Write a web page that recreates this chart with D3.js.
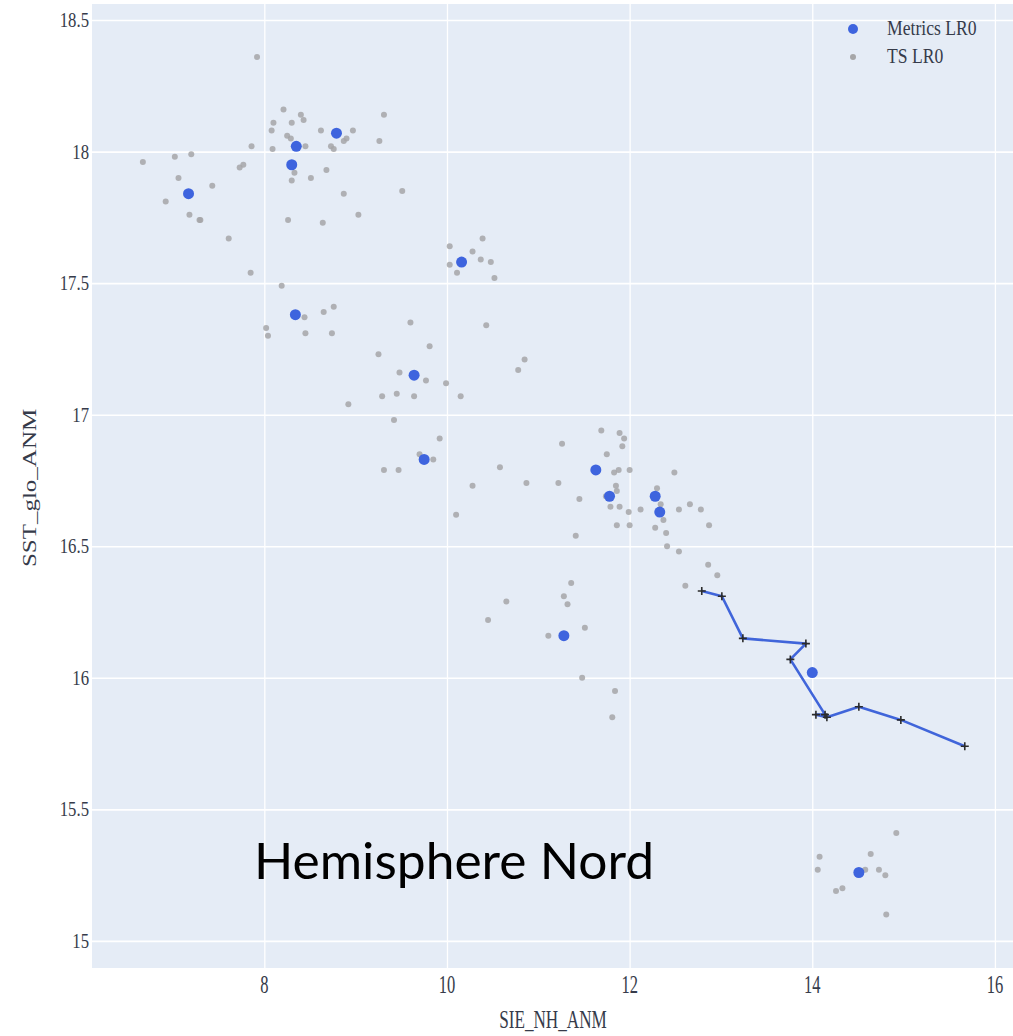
<!DOCTYPE html>
<html>
<head>
<meta charset="utf-8">
<script src="https://cdn.jsdelivr.net/npm/d3@7"></script>
<style>
  html, body { margin: 0; padding: 0; background: #ffffff; }
  svg { display: block; }
</style>
</head>
<body>
<div id="chart"></div>
<script>
// ---- data ----
const xTicks = [8, 10, 12, 14, 16];
const yTicks = [15, 15.5, 16, 16.5, 17, 17.5, 18, 18.5];
const xTitle = "SIE_NH_ANM";
const yTitle = "SST_glo_ANM";
const legendLabels = ["Metrics LR0", "TS LR0"];
const annotation = "Hemisphere Nord";

const tsX = [7.92,8.21,8.40,8.43,8.10,8.30,8.08,8.62,8.97,9.31,8.25,8.29,8.90,8.87,9.26,8.45,8.73,8.76,7.86,8.09,
  6.67,7.02,7.20,7.73,7.77,8.33,8.68,8.51,8.30,7.06,7.43,6.92,8.87,9.51,7.18,7.29,7.30,8.26,8.64,9.03,
  7.61,7.85,8.19,10.03,10.39,10.28,10.37,10.48,10.03,10.11,10.52,8.44,8.65,8.76,8.02,8.04,8.45,8.74,9.60,10.43,
  9.81,9.25,9.48,9.77,9.99,10.78,10.85,9.29,9.45,9.64,10.15,8.92,9.42,9.92,9.70,9.85,9.31,9.47,10.58,10.28,
  10.10,11.26,11.69,11.89,11.94,11.92,11.75,11.83,11.88,12.00,12.49,10.87,11.22,11.85,11.74,11.86,12.30,12.34,12.66,12.54,
  12.78,12.12,11.99,11.79,11.89,11.45,11.86,12.00,12.37,12.28,12.40,12.87,11.41,12.41,12.54,12.86,12.96,12.61,11.36,11.28,
  11.32,10.65,10.45,11.51,11.11,11.48,11.84,11.81,14.92,14.64,14.08,14.06,14.58,14.73,14.80,14.26,14.33,14.81];
const tsY = [18.36,18.16,18.14,18.12,18.11,18.11,18.08,18.08,18.08,18.14,18.06,18.05,18.05,18.04,18.04,18.02,18.02,18.01,18.02,18.01,
  17.96,17.98,17.99,17.94,17.95,17.92,17.93,17.90,17.89,17.90,17.87,17.81,17.84,17.85,17.76,17.74,17.74,17.74,17.73,17.76,
  17.67,17.54,17.49,17.64,17.67,17.62,17.59,17.58,17.57,17.54,17.52,17.37,17.39,17.41,17.33,17.30,17.31,17.31,17.35,17.34,
  17.26,17.23,17.16,17.13,17.12,17.17,17.21,17.07,17.08,17.07,17.07,17.04,16.98,16.91,16.85,16.83,16.79,16.79,16.80,16.73,
  16.62,16.89,16.94,16.93,16.91,16.88,16.85,16.78,16.79,16.79,16.78,16.74,16.74,16.73,16.69,16.71,16.72,16.66,16.66,16.64,
  16.64,16.64,16.63,16.65,16.65,16.68,16.58,16.58,16.60,16.57,16.55,16.58,16.54,16.50,16.48,16.43,16.39,16.35,16.36,16.31,
  16.28,16.29,16.22,16.19,16.16,16.00,15.95,15.85,15.41,15.33,15.32,15.27,15.27,15.27,15.25,15.19,15.20,15.10];

const metricsX = [8.79,8.35,8.30,7.17,10.16,8.34,9.64,9.75,11.63,11.78,12.28,12.33,11.28,14.00,14.51];
const metricsY = [18.07,18.02,17.95,17.84,17.58,17.38,17.15,16.83,16.79,16.69,16.69,16.63,16.16,16.02,15.26];

const lineX = [12.79,13.01,13.24,13.93,13.76,14.14,14.04,14.16,14.51,14.97,15.67];
const lineY = [16.33,16.31,16.15,16.13,16.07,15.86,15.86,15.85,15.89,15.84,15.74];

// ---- layout ----
const W = 1013, H = 1036;
const plot = { left: 92, right: 1013, top: 4, bottom: 968 };

const svg = d3.select("#chart").append("svg").attr("width", W).attr("height", H);

const x = d3.scaleLinear().domain([6.113, 16.198]).range([plot.left, plot.right]);
const y = d3.scaleLinear().domain([14.897, 18.561]).range([plot.bottom, plot.top]);

svg.append("rect")
  .attr("x", plot.left).attr("y", plot.top)
  .attr("width", plot.right - plot.left).attr("height", plot.bottom - plot.top)
  .attr("fill", "#E5ECF6");

const tickColor = "#363b4a";
const serif = "'Liberation Serif', 'DejaVu Serif', serif";

// grid via axes
const gx = svg.append("g").attr("transform", `translate(0,${plot.bottom})`)
  .call(d3.axisBottom(x).tickValues(xTicks).tickSize(-(plot.bottom - plot.top)).tickFormat(""));
gx.select(".domain").remove();
gx.selectAll("line").attr("stroke", "#ffffff").attr("stroke-width", 1.3);

const gy = svg.append("g").attr("transform", `translate(${plot.left},0)`)
  .call(d3.axisLeft(y).tickValues(yTicks).tickSize(-(plot.right - plot.left)).tickFormat(""));
gy.select(".domain").remove();
gy.selectAll("line").attr("stroke", "#ffffff").attr("stroke-width", 1.6);

// tick labels
svg.append("g").selectAll("text").data(xTicks).join("text")
  .attr("transform", d => `translate(${x(d)},993) scale(0.66,1)`)
  .attr("text-anchor", "middle")
  .attr("font-family", serif).attr("font-size", 25).attr("fill", tickColor)
  .text(d => d3.format("")(d));

svg.append("g").selectAll("text").data(yTicks).join("text")
  .attr("transform", d => `translate(89,${y(d) + 7}) scale(0.76,1)`)
  .attr("text-anchor", "end")
  .attr("font-family", serif).attr("font-size", 22).attr("fill", tickColor)
  .text(d => d3.format("")(d));

// axis titles
svg.append("text")
  .attr("transform", `translate(553,1028) scale(0.66,1)`)
  .attr("text-anchor", "middle")
  .attr("font-family", serif).attr("font-size", 26).attr("fill", tickColor)
  .text(xTitle);

svg.append("text")
  .attr("transform", `translate(36,488) rotate(-90) scale(1,0.76)`)
  .attr("text-anchor", "middle")
  .attr("font-family", serif).attr("font-size", 25).attr("fill", tickColor)
  .text(yTitle);

// TS points
const tsData = tsX.map((v, i) => ({ x: v, y: tsY[i] }));
svg.append("g").selectAll("circle").data(tsData).join("circle")
  .attr("cx", d => x(d.x)).attr("cy", d => y(d.y)).attr("r", 3)
  .attr("fill", "#a6a6a8").attr("fill-opacity", 0.85);

// Metrics points
const mData = metricsX.map((v, i) => ({ x: v, y: metricsY[i] }));
svg.append("g").selectAll("circle").data(mData).join("circle")
  .attr("cx", d => x(d.x)).attr("cy", d => y(d.y)).attr("r", 5.5)
  .attr("fill", "#3E64DE");

// trajectory line
const lData = lineX.map((v, i) => ({ x: v, y: lineY[i] }));
svg.append("path").datum(lData)
  .attr("d", d3.line().x(d => x(d.x)).y(d => y(d.y)))
  .attr("fill", "none").attr("stroke", "#4065DA").attr("stroke-width", 2.6)
  .attr("stroke-linejoin", "round");
svg.append("g").selectAll("path").data(lData).join("path")
  .attr("transform", d => `translate(${x(d.x)},${y(d.y)})`)
  .attr("d", "M-4,0H4M0,-4V4")
  .attr("stroke", "#2b2b2b").attr("stroke-width", 1.6).attr("fill", "none");

// legend
const leg = svg.append("g");
leg.append("circle").attr("cx", 853).attr("cy", 29).attr("r", 5).attr("fill", "#3E64DE");
leg.append("circle").attr("cx", 853).attr("cy", 57).attr("r", 3).attr("fill", "#a6a6a8");
leg.selectAll("text").data(legendLabels).join("text")
  .attr("transform", (d, i) => `translate(887,${35 + i * 28}) scale(0.84,1)`)
  .attr("font-family", serif).attr("font-size", 21).attr("fill", tickColor)
  .text(d => d);

// annotation
svg.append("text")
  .attr("x", 254).attr("y", 879)
  .attr("font-family", "Lato, 'Open Sans', sans-serif").attr("font-size", 50)
  .attr("fill", "#000000")
  .attr("textLength", 400).attr("lengthAdjust", "spacingAndGlyphs")
  .text(annotation);
</script>
</body>
</html>
